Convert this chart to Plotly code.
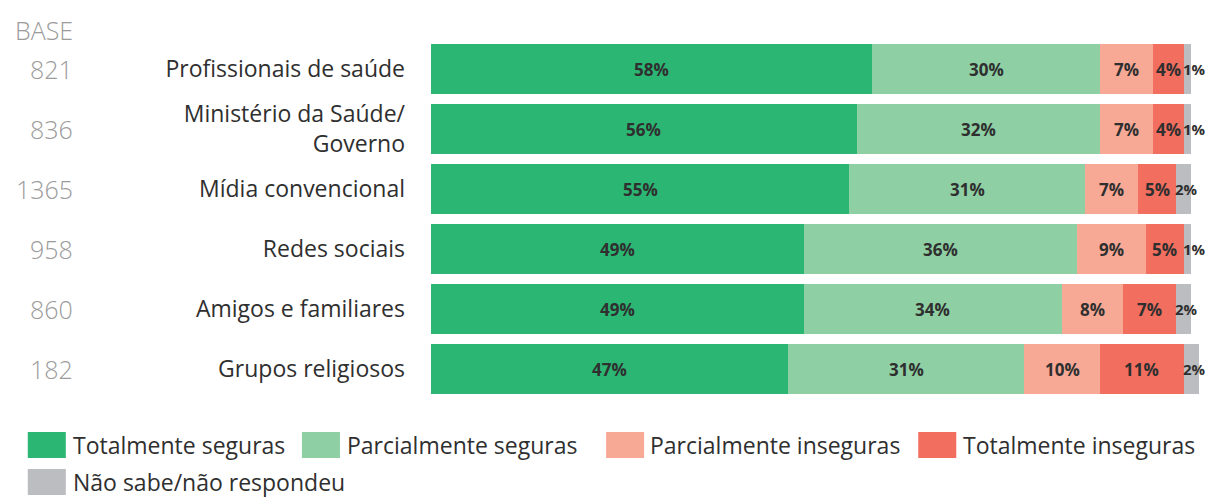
import plotly.graph_objects as go

# Sources of information and sample size per source
categories = [
    "Profissionais de saúde",
    "Ministério da Saúde/<br>Governo",
    "Mídia convencional",
    "Redes sociais",
    "Amigos e familiares",
    "Grupos religiosos",
]
bases = [821, 836, 1365, 958, 860, 182]

# Share of respondents (%) per answer
series_names = [
    "Totalmente seguras",
    "Parcialmente seguras",
    "Parcialmente inseguras",
    "Totalmente inseguras",
    "Não sabe/não respondeu",
]
totalmente_seguras = [58, 56, 55, 49, 49, 47]
parcialmente_seguras = [30, 32, 31, 36, 34, 31]
parcialmente_inseguras = [7, 7, 7, 9, 8, 10]
totalmente_inseguras = [4, 4, 5, 5, 7, 11]
nao_sabe = [1, 1, 2, 1, 2, 2]

series_values = [
    totalmente_seguras,
    parcialmente_seguras,
    parcialmente_inseguras,
    totalmente_inseguras,
    nao_sabe,
]
colors = ["#2BB673", "#8ECFA3", "#F7A996", "#F26E5E", "#BCBDC0"]

FONT = "Open Sans"
TEXT = "#2F2F2F"
GRAY = "#9B9B9B"

# plot area: 7.6 px per percentage point, room up to 101 for rounded totals
L, T, B = 431, 39, 100
XMAX = 101
PLOT_W = 7.6 * XMAX
R = 1205 - L - PLOT_W
PLOT_H = 499 - T - B
N = len(categories)

fig = go.Figure()
for name, vals, col in zip(series_names, series_values, colors):
    fig.add_trace(go.Bar(
        y=categories,
        x=vals,
        name=name,
        orientation="h",
        marker=dict(color=col, line=dict(width=0)),
        hoverinfo="skip",
    ))


def row_center(r):
    # paper y of the centre of category row r (first row on top)
    return 1 - (r + 0.5) / N


# Percentage labels on each segment; the narrow last segment gets its
# label starting at the segment's left edge
for r in range(N):
    start = 0
    for s, vals in enumerate(series_values):
        v = vals[r]
        last = s == len(series_values) - 1
        fig.add_annotation(
            text=f"{v}%", xref="paper", yref="paper",
            x=(start if last else start + v / 2) / XMAX, y=row_center(r),
            xanchor="left" if last else "center", yanchor="middle",
            xshift=-3 if last else 0,
            showarrow=False,
            font=dict(family=FONT, size=15 if last else 17, color=TEXT, weight="bold"),
        )
        start += v

fig.update_layout(
    width=1205,
    height=499,
    barmode="stack",
    bargap=0.17,
    showlegend=False,
    plot_bgcolor="white",
    paper_bgcolor="white",
    margin=dict(l=L, r=R, t=T, b=B),
    font=dict(family=FONT, color=TEXT),
    xaxis=dict(range=[0, XMAX], visible=False, fixedrange=True),
    yaxis=dict(
        categoryorder="array",
        categoryarray=categories,
        autorange="reversed",
        showgrid=False,
        zeroline=False,
        showline=False,
        ticks="",
        ticklabelstandoff=25,
        tickfont=dict(family=FONT, size=23, color=TEXT),
    ),
)

# Sample size column
fig.add_annotation(
    text="BASE", xref="paper", yref="paper", x=0, y=1,
    xshift=-356, yshift=9, xanchor="right", yanchor="middle",
    showarrow=False, font=dict(family=FONT, size=25, color=GRAY, weight=300),
)
for r, b in enumerate(bases):
    fig.add_annotation(
        text=str(b), xref="paper", yref="paper", x=0, y=row_center(r),
        xshift=-356, xanchor="right", yanchor="middle",
        showarrow=False, font=dict(family=FONT, size=25, color=GRAY, weight=300),
    )

# Legend drawn as swatches + labels below the bars
legend_rows = [
    [(28, 71), (302, 345), (606, 648), (918, 961)],
    [(28, 71)],
]
row_y = [445, 482]


def px_x(px):
    return (px - L) / PLOT_W


def px_y(py):
    return (499 - py - B) / PLOT_H


k = 0
for r, row in enumerate(legend_rows):
    for sx, tx in row:
        cy = row_y[r]
        fig.add_shape(
            type="rect", xref="paper", yref="paper",
            x0=px_x(sx), x1=px_x(sx + 38),
            y0=px_y(cy + 13), y1=px_y(cy - 13),
            fillcolor=colors[k], line=dict(width=0),
        )
        fig.add_annotation(
            text=series_names[k], xref="paper", yref="paper",
            x=px_x(tx), y=px_y(cy),
            xanchor="left", yanchor="middle", showarrow=False,
            font=dict(family=FONT, size=23, color=TEXT),
        )
        k += 1

fig.write_html("out.html")
